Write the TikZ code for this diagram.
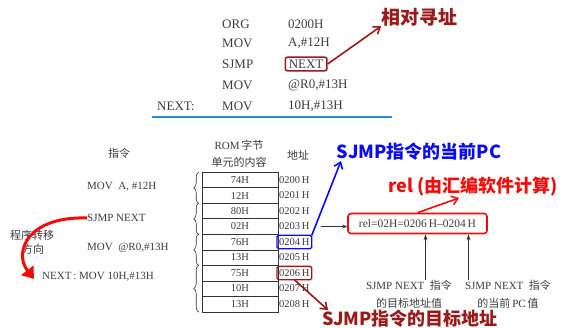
\documentclass[tikz,border=0pt]{standalone}
\usepackage{fontspec}
\setmainfont{Liberation Serif}
\newfontfamily\cjk{Noto Sans CJK SC}
\usetikzlibrary{arrows.meta,decorations.pathreplacing}
\definecolor{dred}{RGB}{155,25,25}
\definecolor{lblue}{RGB}{40,140,225}
\definecolor{pblue}{RGB}{10,10,245}
\definecolor{bred}{RGB}{245,10,10}
\definecolor{tgray}{RGB}{60,60,60}
\begin{document}
\begin{tikzpicture}[x=1pt,y=-1pt,
  asm/.style={anchor=west,inner sep=0pt,font=\fontsize{13}{15}\selectfont,text=tgray},
  ins/.style={anchor=west,inner sep=0pt,font=\fontsize{11}{13}\selectfont,text=tgray},
  cell/.style={draw=black!80,line width=0.6pt,minimum width=76pt,minimum height=15.5pt,inner sep=0pt,font=\fontsize{10.5}{12}\selectfont,text=tgray},
  addr/.style={anchor=west,inner xsep=2pt,inner ysep=0pt,minimum height=13pt,font=\fontsize{10.5}{12}\selectfont,text=tgray},
  hdr/.style={font=\fontsize{11}{17}\selectfont,text=tgray,align=center,inner sep=0pt},
  big/.style={font=\cjk\bfseries\fontsize{18}{20}\selectfont,inner sep=0pt},
  barb/.style={-{Straight Barb[length=6pt,width=9pt]},line width=1.6pt},
  brc/.style={decorate,decoration={brace,amplitude=5pt},line width=0.6pt,draw=black!80}
]
\useasboundingbox (0,0) rectangle (561,328);

% ---- top listing ----
\node[asm] (o1) at (222,24) {ORG};
\node[asm] (p1) at (288,24) {0200H};
\node[asm] (o2) at (222,43) {MOV};
\node[asm] (p2) at (288,43) {A,\#12H};
\node[asm] (o3) at (222,64) {SJMP};
\node[asm,draw=dred,line width=1.5pt,rounded corners=2pt,inner xsep=3.5pt,inner ysep=2.5pt] (p3) at (284.5,64) {NEXT};
\node[asm] (o4) at (222,85) {MOV};
\node[asm] (p4) at (288,85) {@R0,\#13H};
\node[asm] (lbl) at (157,106) {NEXT:};
\node[asm] (o5) at (222,106) {MOV};
\node[asm] (p5) at (288,106) {10H,\#13H};
\coordinate (bl1) at (152,117);
\coordinate (bl2) at (392,117);
\draw[lblue,line width=1.8pt] (bl1) -- (bl2);

\node[big,text=dred,anchor=west,font=\cjk\bfseries\fontsize{19}{21}\selectfont] (xd) at (381,17) {相对寻址};
\draw[barb,dred] (p3.east) -- (xd.south west);

% ---- headers ----
\node[hdr] (h1) at (119,153) {\cjk 指令};
\node[hdr] (h2) at (239,153.5) {ROM\,{\cjk 字节}\\{\cjk 单元的内容}};
\node[hdr] (h3) at (298,155) {\cjk 地址};

% ---- table ----
\foreach \v [count=\i from 0] in {74H,12H,80H,02H,76H,13H,75H,10H,13H}{
  \node[cell] (c\i) at (240,{172.3+15.5*(\i+0.5)}) {\v};
}
\foreach \a [count=\i from 0] in {0200,0201,0202,0203,0204,0205,0206,0207,0208}{
  \node[addr] (a\i) at (277,{172.3+15.5*(\i+0.5)}) {\a\,H};
}
\draw[pblue,line width=1.3pt,rounded corners=1.5pt] (a4.south west) rectangle (a4.north east);
\draw[dred,line width=1.3pt,rounded corners=1.5pt] (a6.south west) rectangle (a6.north east);

% braces
\draw[brc] ([xshift=-3pt]c1.south west) -- ([xshift=-3pt]c0.north west);
\draw[brc] ([xshift=-3pt]c3.south west) -- ([xshift=-3pt]c2.north west);
\draw[brc] ([xshift=-3pt]c5.south west) -- ([xshift=-3pt]c4.north west);
\draw[brc] ([xshift=-3pt]c8.south west) -- ([xshift=-3pt]c6.north west);

% instructions
\node[ins] (i1) at (87,187) {MOV~~A, \#12H};
\node[ins] (i2) at (87,218) {SJMP NEXT};
\node[ins] (i3) at (87,248) {MOV~~@R0,\#13H};
\node[ins] (i4) at (42,277) {NEXT\,:~MOV~10H,\#13H};

\node[hdr,font=\cjk\fontsize{11}{13}\selectfont] (z1) at (32,235) {程序转移};
\node[hdr,font=\cjk\fontsize{11}{13}\selectfont] (z2) at (33,249) {方向};
\coordinate (tip) at (34,279);
\draw[bred,line width=3pt,-{Triangle[length=11pt,width=15pt]}] (i2.west) .. controls (28,216) and (13,252) .. (tip);

% ---- right side ----
\node[draw=bred,line width=1.6pt,rounded corners=3pt,minimum width=139pt,minimum height=20pt,inner sep=0pt,font=\fontsize{11.5}{13}\selectfont,text=tgray] (rel) at (417.5,223.5) {rel=02H=0206\,H\textendash0204\,H};
\draw[-{Stealth[length=5pt,width=4pt]},line width=0.6pt,black!80] ([xshift=9pt]a3.east) -- (a3.east -| rel.west);

\node[big,text=bred] (rl) at (473,187) {rel ({由汇编软件计算})};
\draw[barb,bred] (rel.north) -- (459,198);

\node[big,text=pblue] (pc) at (419,152) {SJMP指令的当前PC};
\draw[barb,pblue] (a4.north east) -- (341,161);

\node[big,text=dred] (ta) at (410,319) {SJMP指令的目标地址};
\draw[barb,dred] (a6.south) -- (328,310);

\node[hdr,font=\fontsize{11}{18}\selectfont] (t1) at (409,294) {SJMP NEXT\ \ {\cjk 指令}\\{\cjk 的目标地址值}};
\node[hdr,font=\fontsize{11}{18}\selectfont] (t2) at (508,294) {SJMP NEXT\ \ {\cjk 指令}\\{\cjk 的当前}\,PC\,{\cjk 值}};
\draw[-{Stealth[length=6pt,width=4pt]},line width=0.7pt,black!80] ([xshift=16.5pt]t1.north) -- ([xshift=16.5pt]t1.north |- rel.south);
\draw[-{Stealth[length=6pt,width=4pt]},line width=0.7pt,black!80] ([xshift=-39.5pt]t2.north) -- ([xshift=-39.5pt]t2.north |- rel.south);
\end{tikzpicture}
\end{document}
